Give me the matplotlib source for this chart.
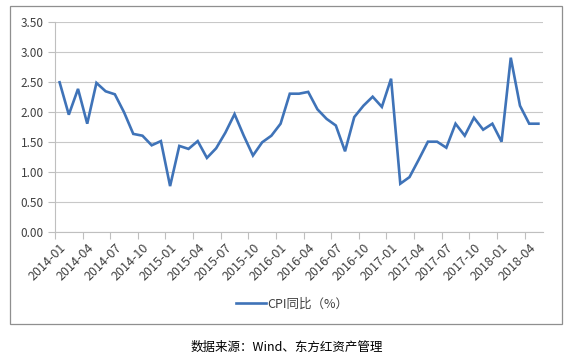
import matplotlib
matplotlib.use("Agg")
import matplotlib.pyplot as plt
from matplotlib.patches import Rectangle

plt.rcParams["font.family"] = ["Noto Sans CJK SC", "DejaVu Sans"]

# 月度 CPI 同比 (%)
months = [f"{y}-{m:02d}" for y in range(2014, 2019) for m in range(1, 13)][:53]
cpi = [2.49, 1.95, 2.38, 1.80, 2.48, 2.34, 2.29, 1.99, 1.63, 1.60, 1.44, 1.51,
       0.76, 1.43, 1.38, 1.51, 1.23, 1.39, 1.65, 1.96, 1.60, 1.27, 1.49, 1.60,
       1.80, 2.30, 2.30, 2.33, 2.04, 1.88, 1.77, 1.34, 1.91, 2.10, 2.25, 2.08,
       2.55, 0.80, 0.91, 1.20, 1.50, 1.50, 1.40, 1.80, 1.60, 1.90, 1.70, 1.80,
       1.50, 2.90, 2.10, 1.80, 1.80]
yticks = [0.0, 0.5, 1.0, 1.5, 2.0, 2.5, 3.0, 3.5]
legend_label = "CPI同比（%）"
source_text = "数据来源：Wind、东方红资产管理"

W, H = 570, 357
fig = plt.figure(figsize=(W / 100, H / 100), dpi=100)
ax = fig.add_axes([55 / W, 1 - 231.7 / H, (543 - 55) / W, (231.7 - 21.7) / H])

x = list(range(len(cpi)))
line, = ax.plot(x, cpi, color="#3f73b8", lw=1.9, solid_joinstyle="miter")

ax.set_xlim(-0.5, len(cpi) - 0.5)
ax.set_ylim(0, 3.5)
ax.set_yticks(yticks)
ax.set_yticklabels([f"{v:.2f}" for v in yticks])
ax.yaxis.grid(True, color="#c8c8c8", lw=0.8)
ax.set_axisbelow(True)

# tick marks between categories, labels on the categories
ax.set_xticks([i - 0.5 for i in range(0, len(cpi), 3)])
ax.set_xticklabels([])
ax.set_xticks(list(range(0, len(cpi), 3)), minor=True)
ax.set_xticklabels([months[i] for i in range(0, len(cpi), 3)], minor=True,
                   rotation=45, ha="right", va="top", rotation_mode="anchor")
ax.tick_params(axis="x", which="major", length=5, color="#bfbfbf", direction="out")
ax.tick_params(axis="x", which="minor", length=0, pad=7, labelsize=9, labelcolor="#404040")
ax.tick_params(axis="y", length=5, color="#bfbfbf", labelsize=8.5, labelcolor="#404040", pad=3)

for s in ["top", "right"]:
    ax.spines[s].set_visible(False)
for s in ["left", "bottom"]:
    ax.spines[s].set_color("#bfbfbf")
    ax.spines[s].set_linewidth(0.8)

fig.legend([line], [legend_label], loc="center", bbox_to_anchor=(292 / W, 1 - 304 / H),
           frameon=False, fontsize=9, handlelength=2.4, handletextpad=0.15,
           labelcolor="#404040")

fig.patches.append(Rectangle((10 / W, 1 - 324 / H), (562 - 10) / W, (324 - 6) / H,
                             transform=fig.transFigure, fill=False,
                             edgecolor="#8f8f8f", lw=0.9))

fig.text(287 / W, 1 - 347 / H, source_text, ha="center", va="center",
         fontsize=9, color="#000000")

fig.savefig("out.png", dpi=100)
